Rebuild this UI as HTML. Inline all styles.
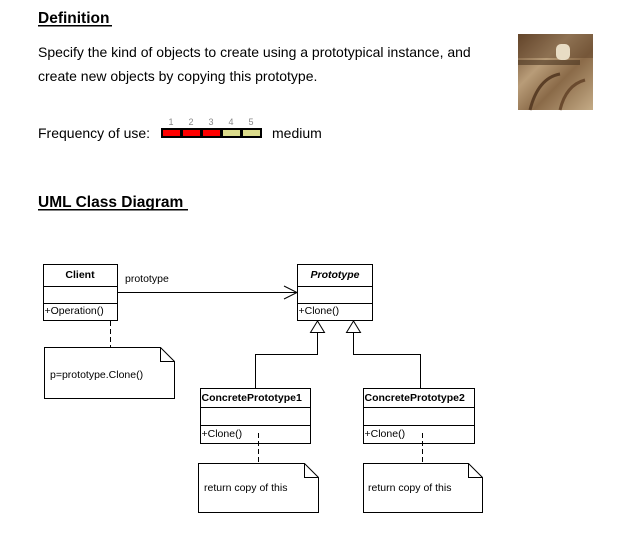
<!DOCTYPE html>
<html><head><meta charset="utf-8"><style>
body{margin:0;background:#fff;width:620px;height:539px;overflow:hidden}
svg{display:block;font-family:"Liberation Sans",Arial,sans-serif}
</style></head><body>
<svg width="620" height="539" viewBox="0 0 620 539">
<defs>
<linearGradient id="sep" x1="0" y1="0" x2="1" y2="1">
<stop offset="0" stop-color="#6a4a2e"/><stop offset="0.35" stop-color="#b89c78"/><stop offset="0.6" stop-color="#8a6a48"/><stop offset="1" stop-color="#c4ab86"/></linearGradient>
</defs>
<g>
<text x="38" y="23" font-size="15.5" font-weight="bold" fill="#000">Definition</text>
<rect x="38" y="25" width="74" height="1.5" fill="#000"/>
</g>
<text font-size="14" fill="#000"><tspan x="38" y="57">Specify the kind of objects to create using a prototypical instance, and</tspan><tspan x="38" y="81">create new objects by copying this prototype.</tspan></text>
<g>
<rect x="518" y="34" width="75" height="76" fill="url(#sep)"/>
<rect x="518" y="34" width="75" height="24" fill="#5a3e26" opacity="0.45"/>
<rect x="556" y="44" width="14" height="16" rx="5" fill="#e8dcc4"/>
<rect x="518" y="60" width="62" height="5" fill="#4a3420" opacity="0.6"/>
<path d="M530 110 Q538 78 560 74" stroke="#5a3e26" stroke-width="3" fill="none"/>
<path d="M560 110 Q566 85 585 80" stroke="#6a4a2e" stroke-width="3" fill="none"/>
</g>
<g>
<text x="38" y="138" font-size="14" fill="#000">Frequency of use:</text>
<g font-size="9" fill="#888" text-anchor="middle"><text x="171" y="125">1</text><text x="191" y="125">2</text><text x="211" y="125">3</text><text x="231" y="125">4</text><text x="251" y="125">5</text></g>
<rect x="161" y="128" width="101" height="10" fill="#000"/>
<rect x="163" y="130" width="17" height="6" fill="#f00"/>
<rect x="183" y="130" width="17" height="6" fill="#f00"/>
<rect x="203" y="130" width="17" height="6" fill="#f00"/>
<rect x="223" y="130" width="17" height="6" fill="#dcdc8c"/>
<rect x="243" y="130" width="17" height="6" fill="#dcdc8c"/>
<text x="272" y="138" font-size="14" fill="#000">medium</text>
</g>
<g>
<text x="38" y="207" font-size="15.5" font-weight="bold" fill="#000">UML Class Diagram</text>
<rect x="38" y="209" width="150" height="1.5" fill="#000"/>
</g>
<g stroke="#000" fill="none" stroke-width="1">
<g>
<rect x="43.5" y="264.5" width="74" height="56" fill="#fff"/>
<line x1="43.5" y1="286.5" x2="117.5" y2="286.5"/><line x1="43.5" y1="303.5" x2="117.5" y2="303.5"/>
</g>
<g>
<rect x="297.5" y="264.5" width="75" height="56" fill="#fff"/>
<line x1="297.5" y1="286.5" x2="372.5" y2="286.5"/><line x1="297.5" y1="303.5" x2="372.5" y2="303.5"/>
</g>
<g>
<line x1="117.5" y1="292.5" x2="297" y2="292.5"/>
<polyline points="284,286 297,292.5 284,299"/>
</g>
<line x1="110.5" y1="321" x2="110.5" y2="347" stroke-dasharray="5,3"/>
<path d="M44.5 347.5 H160.5 L174.5 361.5 V398.5 H44.5 Z M160.5 347.5 V361.5 H174.5"/>
<g>
<polyline points="317.5,332 317.5,354.5 255.5,354.5 255.5,388"/>
<polyline points="353.5,332 353.5,354.5 420.5,354.5 420.5,388"/>
<polygon points="317.5,321 310.5,332.5 324.5,332.5" fill="#fff"/>
<polygon points="353.5,321 346.5,332.5 360.5,332.5" fill="#fff"/>
</g>
<g>
<rect x="200.5" y="388.5" width="110" height="55" fill="#fff"/>
<line x1="200.5" y1="407.5" x2="310.5" y2="407.5"/><line x1="200.5" y1="425.5" x2="310.5" y2="425.5"/>
</g>
<g>
<rect x="363.5" y="388.5" width="111" height="55" fill="#fff"/>
<line x1="363.5" y1="407.5" x2="474.5" y2="407.5"/><line x1="363.5" y1="425.5" x2="474.5" y2="425.5"/>
</g>
<line x1="258.5" y1="433" x2="258.5" y2="463" stroke-dasharray="5,3"/>
<line x1="422.5" y1="433" x2="422.5" y2="463" stroke-dasharray="5,3"/>
<path d="M198.5 463.5 H304.5 L318.5 477.5 V512.5 H198.5 Z M304.5 463.5 V477.5 H318.5"/>
<path d="M363.5 463.5 H468.5 L482.5 477.5 V512.5 H363.5 Z M468.5 463.5 V477.5 H482.5"/>
</g>
<g font-size="10.5" fill="#000">
<text x="80" y="278" text-anchor="middle" font-weight="bold">Client</text>
<text x="44.5" y="314">+Operation()</text>
<text x="125" y="282">prototype</text>
<text x="335" y="278" text-anchor="middle" font-weight="bold" font-style="italic">Prototype</text>
<text x="298.5" y="314">+Clone()</text>
<text x="50" y="378">p=prototype.Clone()</text>
<text x="201.5" y="401" font-weight="bold">ConcretePrototype1</text>
<text x="201.5" y="437">+Clone()</text>
<text x="364.5" y="401" font-weight="bold">ConcretePrototype2</text>
<text x="364.5" y="437">+Clone()</text>
<text x="204" y="491">return copy of this</text>
<text x="368" y="491">return copy of this</text>
</g>
</svg>
</body></html>
